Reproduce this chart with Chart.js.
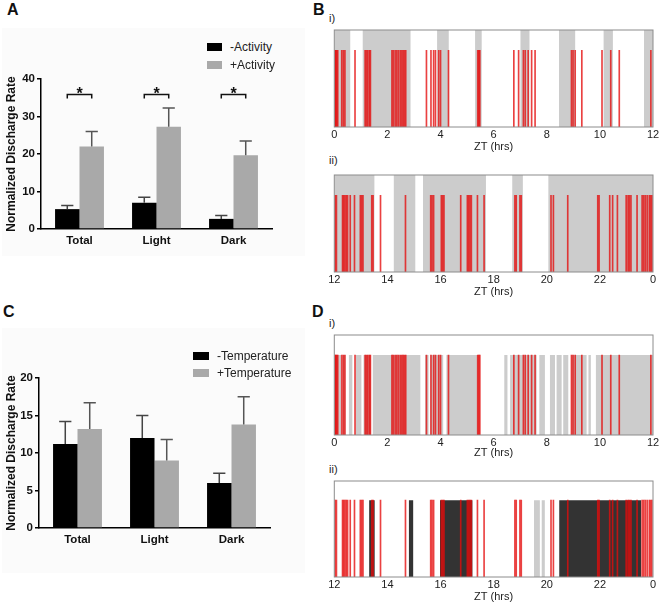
<!DOCTYPE html>
<html>
<head>
<meta charset="utf-8">
<script src="https://cdn.jsdelivr.net/npm/chart.js@4.4.1/dist/chart.umd.min.js"></script>
<style>
  body { margin: 0; background: #fff; width: 661px; height: 607px; position: relative; overflow: hidden;
         font-family: Arial, "Liberation Sans", sans-serif; }
  canvas, .abs { position: absolute; }
  .panel { font-weight: bold; font-size: 16px; line-height: 16px; color: #111; }
  .sub { font-size: 11px; line-height: 11px; color: #222; }
  .bg { background: #fbfbfb; }
  .legrow { position: absolute; display: flex; align-items: center; height: 14px; font-size: 12px; line-height: 14px; color: #222; }
  .legrow span { display: inline-block; }
</style>
</head>
<body>

<div class="abs bg" style="left:2px;top:28px;width:303px;height:228px"></div>
<div class="abs bg" style="left:2px;top:328px;width:303px;height:245px"></div>

<div class="abs panel" style="left:7px;top:2px">A</div>
<div class="abs panel" style="left:313px;top:2px">B</div>
<div class="abs panel" style="left:3px;top:304px">C</div>
<div class="abs panel" style="left:312px;top:304px">D</div>

<div class="abs sub" style="left:329px;top:13px">i)</div>
<div class="abs sub" style="left:329px;top:155px">ii)</div>
<div class="abs sub" style="left:329px;top:318px">i)</div>
<div class="abs sub" style="left:329px;top:464px">ii)</div>

<canvas id="chartA" width="300" height="200" style="left:0;top:60px"></canvas>
<canvas id="chartC" width="300" height="198" style="left:0;top:360px"></canvas>
<canvas id="chartBi" width="336" height="129" style="left:325px;top:25px"></canvas>
<canvas id="chartBii" width="336" height="129" style="left:325px;top:170px"></canvas>
<canvas id="chartDi" width="336" height="130" style="left:325px;top:330px"></canvas>
<canvas id="chartDii" width="336" height="128" style="left:325px;top:476px"></canvas>

<div id="legendA"></div>
<div id="legendC"></div>

<script>
/* bar panels: mean and SEM */
var barCats = ['Total', 'Light', 'Dark'];
var actMinus = [5.3, 7.0, 2.7];
var actMinusSem = [1.0, 1.5, 0.9];
var actPlus = [22.0, 27.3, 19.7];
var actPlusSem = [4.0, 5.0, 3.8];
var actSigCats = [0, 1, 2];
var actSigLevel = 35.9;
var actTicks = [0, 10, 20, 30, 40];

var tempMinus = [11.2, 12.0, 6.0];
var tempMinusSem = [3.0, 3.0, 1.3];
var tempPlus = [13.2, 9.0, 13.8];
var tempPlusSem = [3.5, 2.8, 3.7];
var tempTicks = [0, 5, 10, 15, 20];

/* raster panels: spike times (ZT hrs) and shaded epochs */
var spikesDay = [0.03, 0.06, 0.09, 0.13, 0.28, 0.34, 0.40, 0.78, 1.16, 1.21, 1.26, 1.32, 1.36,
  2.17, 2.22, 2.29, 2.35, 2.41, 2.48, 2.54, 2.59, 2.64, 2.69, 3.47, 3.64, 3.74, 3.81, 3.93, 4.00,
  4.30, 5.40, 5.44, 5.48, 6.76, 6.94, 7.12, 7.19, 7.30, 7.43, 7.56, 8.93, 8.99, 9.07, 9.32,
  10.08, 10.41, 10.73, 11.92];
var spikesNight = [12.03, 12.08, 12.31, 12.35, 12.40, 12.45, 12.50, 12.60, 12.76, 12.98, 13.03,
  13.08, 13.41, 13.46, 13.74, 14.68, 15.63, 15.68, 15.74, 16.03, 16.08, 16.13, 16.76, 17.01,
  17.06, 17.11, 17.16, 17.39, 17.64, 18.80, 18.85, 18.99, 19.04, 20.16, 20.25, 20.79, 21.92,
  21.97, 22.37, 22.48, 22.66, 22.99, 23.06, 23.11, 23.17, 23.40, 23.59, 23.65, 23.71, 23.78,
  23.86, 23.91, 23.96];

var activityDay = [[0, 0.6], [1.07, 2.87], [3.87, 4.31], [5.3, 5.55], [7.01, 7.35], [8.46, 9.07],
  [10.14, 10.49], [11.66, 12]];
var activityNight = [[12, 13.51], [14.24, 15.05], [15.34, 17.71], [18.70, 19.10], [20.06, 24]];

var tempDay = [[0, 0.25], [0.3, 0.42], [0.55, 0.68], [0.8, 1.02], [1.1, 1.38], [1.45, 3.24],
  [3.42, 3.55], [3.62, 4.1], [4.22, 5.42], [6.4, 6.52], [6.62, 7.62], [7.72, 7.93], [8.12, 8.31],
  [8.37, 8.56], [8.62, 8.81], [8.93, 9.5], [9.57, 9.66], [9.85, 12]];
var tempNightHigh = [[13.31, 13.52], [14.81, 14.97], [15.98, 17.2], [20.47, 23.55]];
var tempNightLow = [[19.52, 19.74], [19.81, 19.93]];

var dayTicks = [0, 2, 4, 6, 8, 10, 12];
var nightTicks = [12, 14, 16, 18, 20, 22, 24];

var FONT = 'Arial, "Liberation Sans", sans-serif';

/* one-sided error bars, Prism style */
var errorBars = {
  id: 'errorBars',
  afterDatasetsDraw: function (chart) {
    var ctx = chart.ctx, y = chart.scales.y;
    ctx.save();
    chart.data.datasets.forEach(function (ds, i) {
      chart.getDatasetMeta(i).data.forEach(function (bar, j) {
        var top = y.getPixelForValue(ds.data[j] + ds.sem[j]);
        var half = bar.width / 4;
        ctx.strokeStyle = ds.errColor;
        ctx.lineWidth = 1.5;
        ctx.beginPath();
        ctx.moveTo(bar.x, bar.y);
        ctx.lineTo(bar.x, top);
        ctx.moveTo(bar.x - half, top);
        ctx.lineTo(bar.x + half, top);
        ctx.stroke();
      });
    });
    ctx.restore();
  }
};

var sigBrackets = {
  id: 'sigBrackets',
  afterDatasetsDraw: function (chart, args, opts) {
    if (!opts.cats) return;
    var ctx = chart.ctx, y = chart.scales.y;
    var m0 = chart.getDatasetMeta(0), m1 = chart.getDatasetMeta(1);
    var yp = y.getPixelForValue(opts.level);
    ctx.save();
    ctx.strokeStyle = '#111';
    ctx.lineWidth = 1.5;
    ctx.fillStyle = '#111';
    ctx.font = 'bold 16px ' + FONT;
    ctx.textAlign = 'center';
    ctx.textBaseline = 'alphabetic';
    opts.cats.forEach(function (j) {
      var x0 = m0.data[j].x, x1 = m1.data[j].x;
      ctx.beginPath();
      ctx.moveTo(x0, yp + 4);
      ctx.lineTo(x0, yp);
      ctx.lineTo(x1, yp);
      ctx.lineTo(x1, yp + 4);
      ctx.stroke();
      ctx.fillText('*', (x0 + x1) / 2, yp + 4.5);
    });
    ctx.restore();
  }
};

var frame = {
  id: 'frame',
  afterDatasetsDraw: function (chart) {
    var a = chart.chartArea, ctx = chart.ctx;
    ctx.save();
    ctx.strokeStyle = '#8c8c8c';
    ctx.lineWidth = 1;
    ctx.strokeRect(a.left, a.top, a.right - a.left, a.bottom - a.top);
    ctx.restore();
  }
};

function htmlLegend(chart, el, left, top, gap, sw, sh) {
  var items = chart.options.plugins.legend.labels.generateLabels(chart);
  items.forEach(function (it, k) {
    var row = document.createElement('div');
    row.className = 'legrow';
    row.style.left = left + 'px';
    row.style.top = (top + k * gap) + 'px';
    var box = document.createElement('span');
    box.style.width = sw + 'px';
    box.style.height = sh + 'px';
    box.style.background = it.fillStyle;
    box.style.marginRight = '8px';
    var txt = document.createElement('span');
    txt.textContent = it.text;
    row.appendChild(box);
    row.appendChild(txt);
    el.appendChild(row);
  });
}

function barChart(id, names, minus, minusSem, plus, plusSem, ticks, pad, yWidth, xHeight, sig) {
  return new Chart(document.getElementById(id), {
    type: 'bar',
    data: {
      labels: barCats,
      datasets: [
        { label: names[0], data: minus, sem: minusSem, backgroundColor: '#000000', errColor: '#444' },
        { label: names[1], data: plus, sem: plusSem, backgroundColor: '#a9a9a9', errColor: '#555' }
      ]
    },
    options: {
      responsive: false,
      animation: false,
      layout: { padding: pad },
      datasets: { bar: { barPercentage: 1, categoryPercentage: 0.635 } },
      scales: {
        x: {
          ticks: { font: { family: FONT, size: 11.5, weight: 'bold' }, color: '#111', padding: 5 },
          grid: { display: true, drawOnChartArea: false, drawTicks: false },
          border: { display: true, color: '#000', width: 1.5 },
          afterFit: function (s) { s.height = xHeight; }
        },
        y: {
          min: ticks[0],
          max: ticks[ticks.length - 1],
          afterBuildTicks: function (s) { s.ticks = ticks.map(function (v) { return { value: v }; }); },
          ticks: { font: { family: FONT, size: 11.5, weight: 'bold' }, color: '#111', padding: 2 },
          grid: { drawOnChartArea: false, drawTicks: true, tickLength: 4, color: '#000', lineWidth: 1.5 },
          border: { display: true, color: '#000', width: 1.5 },
          title: { display: true, text: 'Normalized Discharge Rate', color: '#111',
                   font: { family: FONT, size: 12, weight: 'bold' }, padding: { top: 4, bottom: 0 } },
          afterFit: function (s) { s.width = yWidth; }
        }
      },
      plugins: {
        legend: { display: false },
        tooltip: { enabled: false },
        sigBrackets: sig || {}
      }
    },
    plugins: [errorBars, sigBrackets]
  });
}

function stepPoints(epochs, top) {
  var pts = [];
  epochs.forEach(function (e) {
    pts.push({ x: e[0], y: top });
    pts.push({ x: e[1], y: 0 });
  });
  return pts;
}

function rasterChart(id, range, tickVals, spikes, shades, spikeTop, xHeight) {
  var datasets = [{
    type: 'bar',
    data: spikes.map(function (t) { return { x: t, y: spikeTop }; }),
    backgroundColor: 'rgba(228,12,12,0.78)',
    borderWidth: 0,
    barThickness: 1,
    order: 0
  }];
  shades.forEach(function (s) {
    datasets.push({
      type: 'line',
      data: stepPoints(s.epochs, s.top),
      stepped: true,
      fill: 'origin',
      backgroundColor: s.color,
      borderColor: 'transparent',
      borderWidth: 0,
      pointRadius: 0,
      order: 1
    });
  });
  return new Chart(document.getElementById(id), {
    type: 'bar',
    data: { datasets: datasets },
    options: {
      responsive: false,
      animation: false,
      layout: { padding: { left: 9.3, right: 8, top: 5, bottom: 0 } },
      scales: {
        x: {
          type: 'linear',
          min: range[0],
          max: range[1],
          offset: false,
          afterBuildTicks: function (s) { s.ticks = tickVals.map(function (v) { return { value: v }; }); },
          ticks: {
            font: { family: FONT, size: 11 }, color: '#222', padding: 1, maxRotation: 0, autoSkip: false,
            callback: function (v) { return v === 24 ? '0' : String(v); }
          },
          grid: { display: false, drawTicks: false, offset: false },
          border: { display: false },
          title: { display: true, text: 'ZT (hrs)', color: '#222', font: { family: FONT, size: 11 }, padding: 0 },
          afterFit: function (s) { s.height = xHeight; }
        },
        y: { display: false, min: 0, max: 1 }
      },
      plugins: { legend: { display: false }, tooltip: { enabled: false } }
    },
    plugins: [frame]
  });
}

var chartA = barChart('chartA', ['-Activity', '+Activity'], actMinus, actMinusSem, actPlus, actPlusSem,
  actTicks, { top: 19, right: 28, bottom: 0, left: 0 }, 41, 31,
  { cats: actSigCats, level: actSigLevel });
var chartC = barChart('chartC', ['-Temperature', '+Temperature'], tempMinus, tempMinusSem, tempPlus, tempPlusSem,
  tempTicks, { top: 18, right: 30, bottom: 0, left: 0 }, 39, 30, null);

htmlLegend(chartA, document.getElementById('legendA'), 207, 40, 17.5, 15, 8);
htmlLegend(chartC, document.getElementById('legendC'), 193, 349, 17, 16, 8);

rasterChart('chartBi', [0, 12], dayTicks, spikesDay,
  [{ epochs: activityDay, top: 1, color: '#cccccc' }], 0.79, 27);
rasterChart('chartBii', [12, 24], nightTicks, spikesNight,
  [{ epochs: activityNight, top: 1, color: '#cccccc' }], 0.79, 27);
rasterChart('chartDi', [0, 12], dayTicks, spikesDay,
  [{ epochs: tempDay, top: 0.8, color: '#cccccc' }], 0.8, 25);
rasterChart('chartDii', [12, 24], nightTicks, spikesNight,
  [{ epochs: tempNightHigh, top: 0.8, color: '#333333' },
   { epochs: tempNightLow, top: 0.8, color: '#cccccc' }], 0.8, 27);
</script>
</body>
</html>
